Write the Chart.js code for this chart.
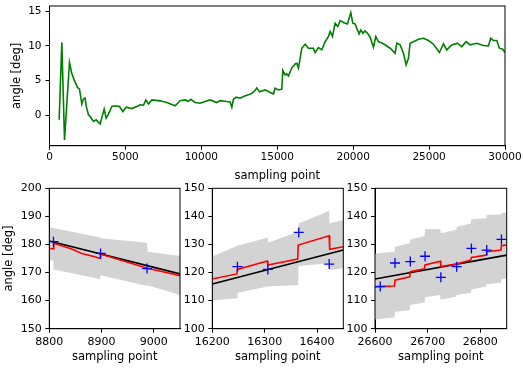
<!DOCTYPE html>
<html>
<head>
<meta charset="utf-8">
<script src="https://cdn.jsdelivr.net/npm/chart.js@4"></script>
<style>
  body { margin: 0; background: #fff; }
  #wrap { position: relative; width: 524px; height: 368px; overflow: hidden; }
  canvas { position: absolute; }
</style>
</head>
<body>
<div id="wrap">
  <canvas id="top" width="524" height="187" style="left:0;top:0"></canvas>
  <canvas id="p1" width="190" height="190" style="left:0;top:178px"></canvas>
  <canvas id="p2" width="170" height="190" style="left:182px;top:178px"></canvas>
  <canvas id="p3" width="179" height="190" style="left:345px;top:178px"></canvas>
</div>
<script>
// top panel: angle over the whole run
const topX = [636, 812, 988, 1317, 1470, 1624, 1844, 1975, 2129, 2239, 2349, 2414, 2568, 2678, 2897, 3073, 3336, 3600, 3731, 3863, 4105, 4324, 4610, 4829, 5049, 5422, 5751, 5970, 6190, 6344, 6519, 6739, 7288, 7726, 8275, 8604, 8934, 9153, 9307, 9592, 9921, 10141, 10580, 11019, 11238, 11677, 11897, 12007, 12116, 12292, 12555, 12775, 13104, 13324, 13543, 13653, 13829, 14202, 14531, 14751, 14860, 15080, 15300, 15365, 15519, 15629, 15738, 15958, 16177, 16287, 16397, 16616, 16836, 17055, 17384, 17494, 17714, 17933, 18153, 18372, 18482, 18636, 18811, 18987, 19140, 19360, 19623, 19843, 19975, 20128, 20238, 20392, 20502, 20633, 20787, 20940, 21116, 21336, 21490, 21665, 21994, 22433, 22763, 22872, 23092, 23311, 23487, 23641, 23750, 23970, 24299, 24629, 24958, 25287, 25682, 25946, 26165, 26494, 26867, 27152, 27437, 27700, 28139, 28578, 28907, 29061, 29237, 29456, 29632, 29851, 30000];
const topY = [-0.67, 10.5, -3.56, 7.6, 6.0, 5.1, 4.0, 3.75, 1.6, 2.36, 2.45, 1.35, 0.05, -0.2, -0.9, -0.67, -1.25, 0.87, -0.43, 0.05, 1.25, 1.35, 1.25, 0.53, 1.15, 0.96, 1.25, 1.5, 1.44, 2.2, 1.63, 2.2, 2.07, 1.83, 1.35, 2.1, 2.2, 2.0, 2.3, 1.83, 1.73, 1.92, 2.2, 1.83, 2.1, 1.97, 1.92, 1.15, 2.3, 2.6, 2.45, 2.7, 2.93, 3.17, 3.56, 3.94, 3.37, 3.65, 3.27, 3.08, 3.9, 3.65, 3.75, 6.44, 5.8, 5.96, 5.67, 6.8, 7.4, 7.5, 6.8, 9.66, 10.24, 9.66, 9.66, 9.04, 9.76, 9.42, 10.6, 11.35, 12.07, 11.35, 13.27, 12.8, 13.65, 13.37, 13.17, 14.8, 13.27, 13.17, 12.55, 11.73, 12.3, 11.83, 12.16, 11.83, 11.25, 9.8, 11.35, 10.6, 10.3, 9.66, 8.94, 10.38, 10.14, 8.94, 7.26, 8.22, 10.38, 10.6, 10.96, 11.1, 10.77, 10.24, 9.04, 10.3, 9.42, 10.14, 10.38, 9.9, 10.6, 10.14, 10.38, 10.05, 10.0, 11.1, 10.77, 10.77, 9.66, 9.52, 9.04];
const topXTicks = [0, 5000, 10000, 15000, 20000, 25000, 30000];
const topYTicks = [0, 5, 10, 15];

// panel 1 (8800 - 9050)
const p1FitX = [8800, 9050];
const p1FitY = [181.2, 169.5];
const p1ObsX = [8808, 8898, 8987];
const p1ObsY = [181.0, 176.8, 171.4];
const p1EstX = [8800, 8808, 8808.5, 8843, 8862, 8887, 8897, 8898, 8986, 9050];
const p1EstY = [178.6, 178.4, 180.4, 178.4, 176.8, 175.6, 175.0, 176.6, 171.6, 168.9];
const p1BandX = [8800, 8808, 8808.5, 8897, 8898, 8987, 8988, 9050];
const p1BandHi = [186.1, 185.9, 185.9, 182.5, 182.2, 180.6, 177.4, 175.9];
const p1BandLo = [174.5, 174.3, 171.1, 167.7, 169.0, 165.2, 165.5, 162.0];
const p1XTicks = [8800, 8900, 9000];
const p1YTicks = [150, 160, 170, 180, 190, 200];

// panel 2 (16200 - 16450)
const p2FitX = [16200, 16450];
const p2FitY = [115.9, 128.0];
const p2ObsX = [16248, 16306, 16365, 16423];
const p2ObsY = [122.1, 121.1, 134.3, 123.0];
const p2EstX = [16200, 16247, 16248, 16305, 16306, 16363, 16364, 16423, 16424, 16450];
const p2EstY = [117.7, 119.5, 121.1, 124.1, 122.7, 124.8, 129.8, 133.1, 128.3, 129.2];
const p2BandX = [16200, 16248, 16248.5, 16306, 16306.5, 16364, 16364.5, 16423, 16423.5, 16450];
const p2BandHi = [125.7, 129.5, 129.5, 132.5, 130.6, 134.6, 137.5, 141.9, 137.5, 138.7];
const p2BandLo = [110.0, 110.8, 112.8, 115.0, 115.0, 115.6, 122.3, 123.3, 120.9, 121.5];
const p2XTicks = [16200, 16300, 16400];
const p2YTicks = [100, 110, 120, 130, 140, 150];

// panel 3 (26600 - 26850)
const p3FitX = [26600, 26850];
const p3FitY = [117.7, 126.2];
const p3ObsX = [26610, 26638, 26667, 26695, 26725, 26755, 26783, 26812, 26840];
const p3ObsY = [115.0, 123.4, 123.9, 125.8, 118.3, 122.1, 128.6, 128.0, 131.8];
const p3EstX = [26600, 26637, 26638, 26666, 26667, 26694, 26695, 26724, 26725, 26754, 26755, 26782, 26783, 26811, 26812, 26839, 26840, 26850];
const p3EstY = [115.0, 115.2, 117.3, 118.5, 120.3, 121.3, 122.7, 124.0, 122.1, 123.0, 123.0, 124.5, 125.4, 126.2, 127.4, 128.0, 129.6, 129.8];
const p3BandHi = [126.8, 127.4, 129.2, 130.4, 131.8, 133.0, 135.4, 135.5, 134.0, 135.2, 136.3, 137.5, 139.0, 139.3, 140.5, 140.7, 141.1, 141.4];
const p3BandLo = [103.3, 104.0, 106.0, 106.6, 108.4, 109.3, 111.2, 112.0, 110.4, 111.4, 112.0, 112.8, 114.0, 115.0, 115.8, 116.4, 117.6, 117.9];
const p3XTicks = [26600, 26700, 26800];
const p3YTicks = [100, 110, 120, 130, 140, 150];

const FONT = 'DejaVu Sans';
const pts = (xs, ys) => xs.map((x, i) => ({x: x, y: ys[i]}));
// closed outline: upper edge forward, lower edge back
const bandPts = (xs, hi, lo) => pts(xs, hi).concat(pts(xs, lo).reverse());

// matplotlib-like box around the plot area
const frame = {
  id: 'frame',
  afterDatasetsDraw(chart) {
    const a = chart.chartArea, ctx = chart.ctx;
    ctx.save();
    ctx.strokeStyle = '#000';
    ctx.lineWidth = 1;
    ctx.strokeRect(a.left, a.top, a.right - a.left, a.bottom - a.top);
    ctx.restore();
  }
};

function axis(o) {
  return {
    type: 'linear',
    min: o.min, max: o.max,
    afterBuildTicks: s => { s.ticks = o.ticks.map(v => ({value: v})); },
    afterFit: s => {
      if (o.w != null) s.width = o.w;
      if (o.h != null) s.height = o.h;
      s.paddingTop = 0; s.paddingBottom = 0; s.paddingLeft = 0; s.paddingRight = 0;
    },
    grid: { drawOnChartArea: false, drawTicks: true, tickLength: 4, color: '#000' },
    border: { display: true, color: '#000' },
    ticks: { color: '#000', padding: o.pad, font: { family: FONT, size: o.fs }, maxRotation: 0, autoSkip: false,
             callback: v => String(v) },
    title: { display: !!o.title, text: o.title, color: '#000', padding: o.tpad || 4, font: { family: FONT, size: 11.5 } }
  };
}

function baseOptions(padding, x, y) {
  return {
    responsive: false, animation: false, devicePixelRatio: 1,
    layout: { padding: padding },
    plugins: { legend: { display: false }, tooltip: { enabled: false } },
    scales: { x: axis(x), y: axis(y) }
  };
}

new Chart(document.getElementById('top'), {
  type: 'line',
  data: { datasets: [{
    data: pts(topX, topY), borderColor: '#008000', borderWidth: 1.6, pointRadius: 0, tension: 0
  }]},
  options: baseOptions({left: 5.8, top: 6, right: 19, bottom: 0},
    {min: 0, max: 30000, ticks: topXTicks, h: 41.3, pad: 1, fs: 10.5, title: 'sampling point'},
    {min: -4.4, max: 15.75, ticks: topYTicks, w: 43.7, pad: 4, fs: 10.5, title: 'angle [deg]'}),
  plugins: [frame]
});

function panel(id, fitX, fitY, obsX, obsY, estX, estY, bandX, bandHi, bandLo, xr, yr, xt, yt, pad, yw, ytitle) {
  new Chart(document.getElementById(id), {
    type: 'line',
    data: { datasets: [
      { data: pts(obsX, obsY), showLine: false, pointStyle: 'cross', pointRadius: 5, borderColor: '#0000ff', borderWidth: 1.3, order: 0 },
      { data: pts(estX, estY), borderColor: '#ff0000', borderWidth: 1.6, pointRadius: 0, order: 1 },
      { data: pts(fitX, fitY), borderColor: '#000', borderWidth: 1.6, pointRadius: 0, order: 2 },
      { data: bandPts(bandX, bandHi, bandLo), borderWidth: 0, borderColor: 'rgba(0,0,0,0)', pointRadius: 0, order: 3,
        fill: 'shape', backgroundColor: '#d3d3d3' }
    ]},
    options: baseOptions(pad,
      {min: xr[0], max: xr[1], ticks: xt, h: 39.3, pad: 2.4, fs: 11, title: 'sampling point'},
      {min: yr[0], max: yr[1], ticks: yt, w: yw, pad: 3.5, fs: 11, title: ytitle, tpad: 2}),
    plugins: [frame]
  });
}

panel('p1', p1FitX, p1FitY, p1ObsX, p1ObsY, p1EstX, p1EstY, p1BandX, p1BandHi, p1BandLo,
  [8800, 9050], [150, 200], p1XTicks, p1YTicks, {left: 0, top: 10.3, right: 10, bottom: 0}, 49.3, 'angle [deg]');
panel('p2', p2FitX, p2FitY, p2ObsX, p2ObsY, p2EstX, p2EstY, p2BandX, p2BandHi, p2BandLo,
  [16200, 16450], [100, 150], p2XTicks, p2YTicks, {left: 0, top: 10.3, right: 8.7, bottom: 0}, 30.3, '');
panel('p3', p3FitX, p3FitY, p3ObsX, p3ObsY, p3EstX, p3EstY, p3EstX, p3BandHi, p3BandLo,
  [26600, 26850], [100, 150], p3XTicks, p3YTicks, {left: 0, top: 10.3, right: 17.3, bottom: 0}, 30, '');
</script>
</body>
</html>
